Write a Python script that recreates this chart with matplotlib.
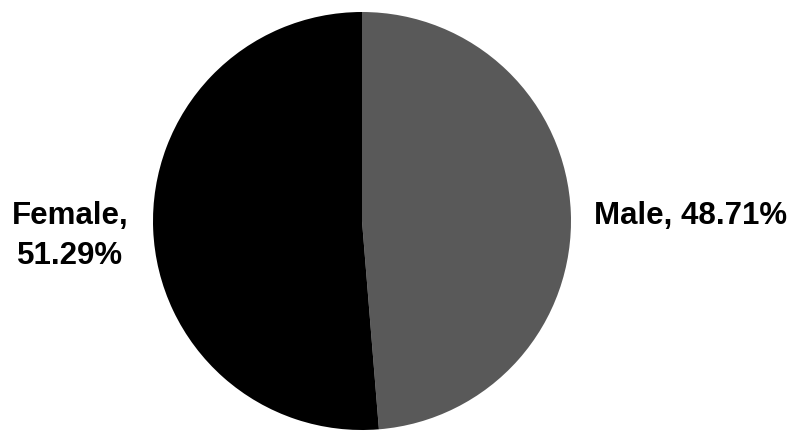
import matplotlib.pyplot as plt

labels = ["Male", "Female"]
shares = [48.71, 51.29]
colors = ["#595959", "#000000"]

W, H = 798, 433
fig = plt.figure(figsize=(W / 100, H / 100), dpi=100)

# pie centred at (362, 221) px with radius ~209 px
cx, cy, r = 362, 221, 209
ax = fig.add_axes([(cx - r) / W, (H - cy - r) / H, 2 * r / W, 2 * r / H])
ax.pie(shares, colors=colors, startangle=90, counterclock=False,
       wedgeprops={"linewidth": 0}, radius=1.0)
ax.set_xlim(-1, 1)
ax.set_ylim(-1, 1)
ax.set_aspect("equal")
ax.axis("off")

font = dict(family="Liberation Sans", fontweight="bold", fontsize=22.5, color="#000000")
fig.text(594 / W, 1 - 216 / H, f"{labels[0]}, {shares[0]:.2f}%", ha="left", va="center", **font)
fig.text(70 / W, 1 - 236 / H, f"{labels[1]},\n{shares[1]:.2f}%", ha="center", va="center",
         multialignment="center", linespacing=1.45, **font)

fig.savefig("out.png", dpi=100)
